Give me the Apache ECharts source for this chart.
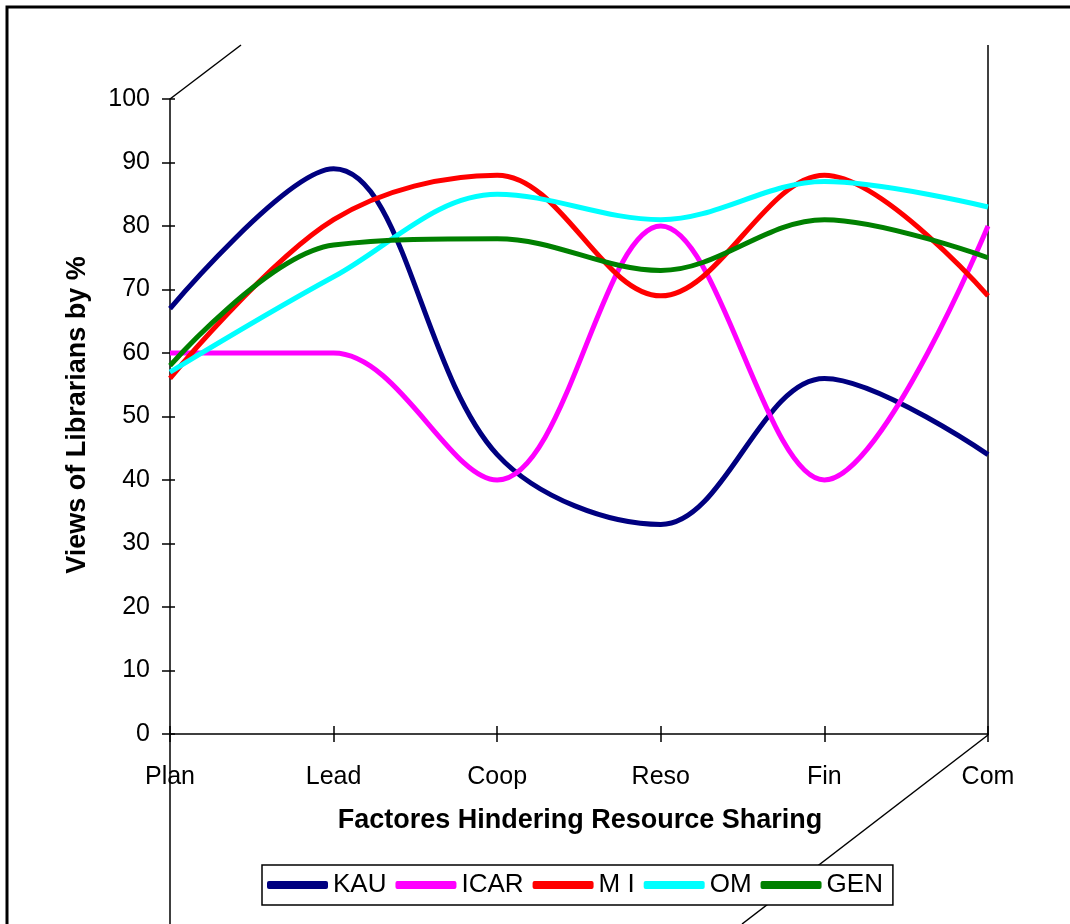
<!DOCTYPE html>
<html>
<head>
<meta charset="utf-8">
<script src="https://cdn.jsdelivr.net/npm/echarts@6/dist/echarts.min.js"></script>
<style>
  html, body { margin: 0; padding: 0; background: #fff; }
  #chart { width: 1070px; height: 924px; }
</style>
</head>
<body>
<div id="chart"></div>
<script>
// categories and series
var factors = ['Plan', 'Lead', 'Coop', 'Reso', 'Fin', 'Com'];
var kau  = [67, 89, 44, 33, 56, 44];
var icar = [60, 60, 40, 80, 40, 80];
var mi   = [56, 81, 88, 69, 88, 69];
var om   = [57, 72, 85, 81, 87, 83];
var gen  = [58, 77, 78, 73, 81, 75];
var yTicks = [0, 100, 10]; // min, max, step

var font = '"Liberation Sans", Arial, sans-serif';

var chart = echarts.init(document.getElementById('chart'));

var makeSeries = function (name, data, color) {
  return {
    type: 'line',
    name: name,
    data: data,
    smooth: 0.35,
    symbol: 'none',
    lineStyle: { color: color, width: 5 },
    itemStyle: { color: color }
  };
};

var option = {
  backgroundColor: '#fff',
  animation: false,
  textStyle: { fontFamily: font, color: '#000' },
  grid: { left: 170, right: 82, top: 99, bottom: 190 },
  legend: {
    left: 262,
    top: 865,
    orient: 'horizontal',
    icon: 'roundRect',
    itemWidth: 61,
    itemHeight: 8,
    itemGap: 9,
    padding: [7, 10, 7, 5],
    borderColor: '#000',
    borderWidth: 1.5,
    backgroundColor: '#fff',
    textStyle: { fontFamily: font, fontSize: 26, color: '#000' },
    data: ['KAU', 'ICAR', 'M I', 'OM', 'GEN']
  },
  xAxis: [{
    type: 'category',
    data: factors,
    boundaryGap: false,
    axisLine: { lineStyle: { color: '#000', width: 1.5 } },
    axisTick: { show: true, length: 8, lineStyle: { color: '#000', width: 1.5 } },
    axisLabel: { color: '#000', fontSize: 25, fontFamily: font, margin: 31 },
    splitLine: { show: false }
  }, {
    type: 'category',
    data: factors,
    position: 'bottom',
    boundaryGap: false,
    axisLine: { show: false },
    axisTick: { show: true, inside: true, length: 8, lineStyle: { color: '#000', width: 1.5 } },
    axisLabel: { show: false },
    splitLine: { show: false }
  }],
  yAxis: [{
    type: 'value',
    min: yTicks[0],
    max: yTicks[1],
    interval: yTicks[2],
    position: 'left',
    axisLine: { show: true, lineStyle: { color: '#000', width: 1.5 } },
    axisTick: { show: true, length: 8, lineStyle: { color: '#000', width: 1.5 } },
    axisLabel: { color: '#000', fontSize: 25, fontFamily: font, margin: 20 },
    splitLine: { show: false }
  }, {
    type: 'value',
    min: yTicks[0],
    max: yTicks[1],
    interval: yTicks[2],
    position: 'left',
    axisLine: { show: false },
    axisTick: { show: true, inside: true, length: 5, lineStyle: { color: '#000', width: 1.5 } },
    axisLabel: { show: false },
    splitLine: { show: false }
  }],
  graphic: [
    // outer frame (right/bottom edges fall outside the picture)
    { type: 'rect', shape: { x: 7, y: 7, width: 1200, height: 1100 },
      style: { fill: 'none', stroke: '#000', lineWidth: 3 }, z: -1 },
    // pseudo-3D wall edges
    { type: 'line', shape: { x1: 170, y1: 99, x2: 241, y2: 45 },
      style: { stroke: '#000', lineWidth: 1.5 }, z: -1 },
    { type: 'line', shape: { x1: 988, y1: 45, x2: 988, y2: 735 },
      style: { stroke: '#000', lineWidth: 1.5 }, z: -1 },
    { type: 'line', shape: { x1: 170, y1: 735, x2: 170, y2: 924 },
      style: { stroke: '#000', lineWidth: 1.5 }, z: -1 },
    { type: 'line', shape: { x1: 988, y1: 735, x2: 742, y2: 924 },
      style: { stroke: '#000', lineWidth: 1.5 }, z: -1 },
    // axis titles
    { type: 'text', x: 580, y: 821,
      style: { text: 'Factores Hindering Resource Sharing', font: 'bold 27px ' + font, fill: '#000',
               align: 'center', verticalAlign: 'middle' } },
    { type: 'text', rotation: Math.PI / 2, x: 78, y: 415,
      style: { text: 'Views of Librarians by %', font: 'bold 27px ' + font, fill: '#000',
               align: 'center', verticalAlign: 'middle' } }
  ],
  series: [
    makeSeries('KAU', kau, '#000080'),
    makeSeries('ICAR', icar, '#ff00ff'),
    makeSeries('M I', mi, '#ff0000'),
    makeSeries('OM', om, '#00ffff'),
    makeSeries('GEN', gen, '#008000')
  ]
};

chart.setOption(option);
</script>
</body>
</html>
